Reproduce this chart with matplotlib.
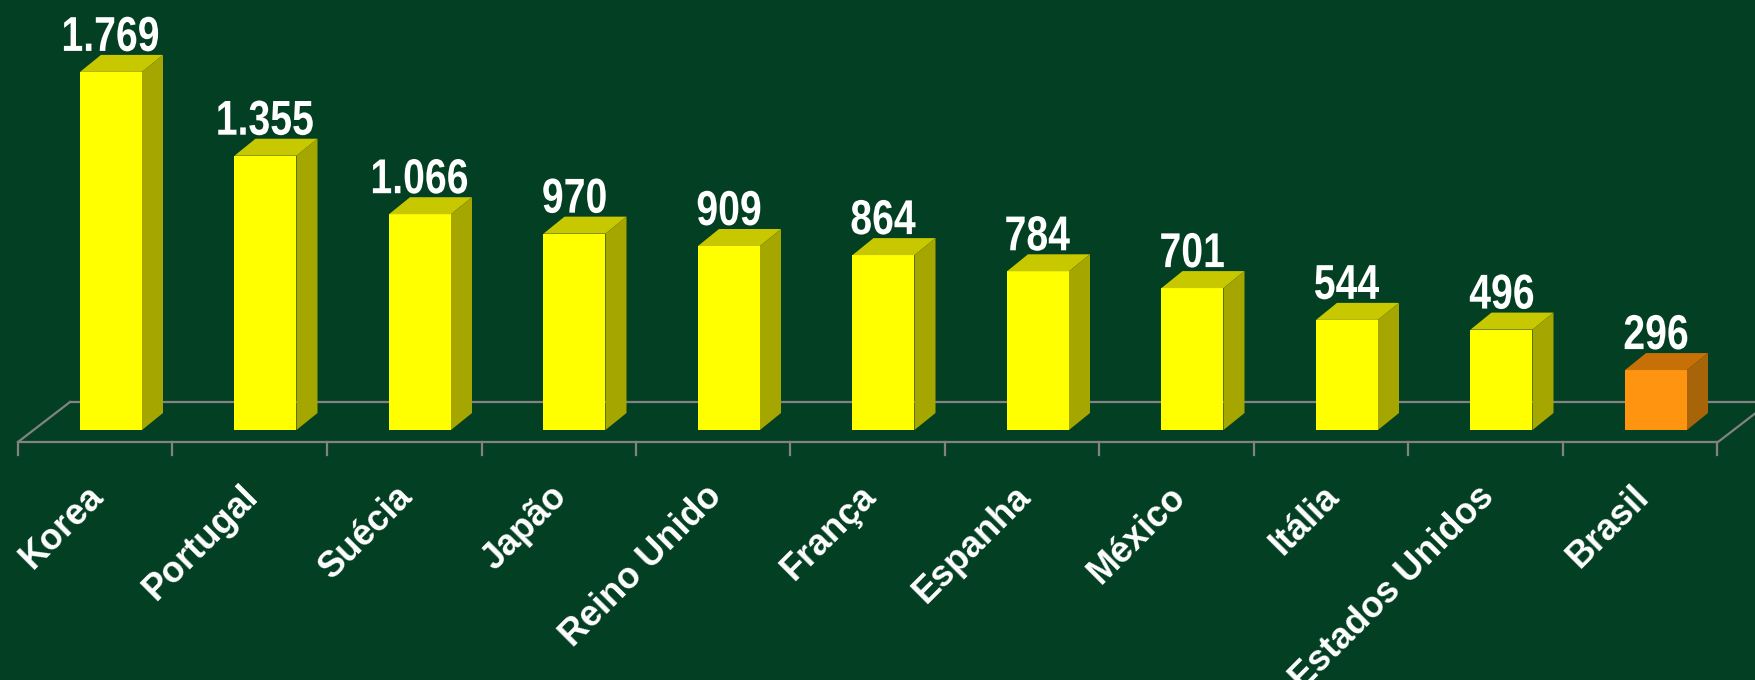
import matplotlib
matplotlib.use("Agg")
import matplotlib.pyplot as plt
from matplotlib.patches import Polygon, PathPatch
from matplotlib.textpath import TextPath
from matplotlib.font_manager import FontProperties
from matplotlib.transforms import Affine2D

paises = ['Korea', 'Portugal', 'Suécia', 'Japão', 'Reino Unido', 'França',
          'Espanha', 'México', 'Itália', 'Estados Unidos', 'Brasil']
valores = [1769, 1355, 1066, 970, 909, 864, 784, 701, 544, 496, 296]
destaque = 'Brasil'

bg = '#034023'
W, H = 1756, 680
# pixel geometry of the fake 3d view
cat_px = 154.5        # px per category
val_per_px = 4.94     # value units per px
x0_px = 111           # px of first bar front centre
base_px = 430         # px (from top) of value zero
bar_w = 62 / cat_px
dep_x = 21 / cat_px
dep_y = 17 * val_per_px

def px_x(p):
    return (p - x0_px) / cat_px

def px_y(p):
    return (base_px - p) * val_per_px

fig = plt.figure(figsize=(W / 100, H / 100), dpi=100, facecolor=bg)
ax = fig.add_axes([0, 0, 1, 1])
ax.set_facecolor(bg)
ax.set_xlim(px_x(0), px_x(W))
ax.set_ylim(px_y(H), px_y(0))
ax.axis('off')

# condensed bold text for the value labels (no narrow font installed)
bold = FontProperties(family='Liberation Sans', weight='bold')

def narrow_text(x, y, s, size=49, squeeze=0.8):
    tp = TextPath((0, 0), s, size=size, prop=bold)
    ext = tp.get_extents()
    cx = (ext.x0 + ext.x1) / 2
    X, Y = ax.transData.transform((x, y))
    tr = Affine2D().translate(-cx, 0).scale(squeeze, 1).translate(X, Y)
    ax.add_patch(PathPatch(tp, transform=tr, facecolor='white',
                           edgecolor='none', zorder=4))

# floor
grey = '#828282'
lw = 1.6
fy, by = px_y(442), px_y(402)
fl, fr = px_x(18), px_x(1718)
bl = px_x(70)
slope = (bl - fl)
ax.plot([fl, fr], [fy, fy], color=grey, lw=lw, zorder=1, solid_capstyle='butt')
ax.plot([bl, px_x(W + 10)], [by, by], color=grey, lw=lw, zorder=1)
ax.plot([fl, bl], [fy, by], color=grey, lw=lw, zorder=1)
ax.plot([fr, fr + slope], [fy, by], color=grey, lw=lw, zorder=1)
for k in range(len(paises) + 1):
    tx = fl + k
    ax.plot([tx, tx], [fy, px_y(455)], color=grey, lw=lw, zorder=1)

# bars
for i, (p, v) in enumerate(zip(paises, valores)):
    if p == destaque:
        front, top, side = '#FF9410', '#C87008', '#A86408'
    else:
        front, top, side = '#FFFF00', '#C8C800', '#A6A600'
    x1, x2 = i - bar_w / 2, i + bar_w / 2
    ax.bar(i, v, width=bar_w, color=front, zorder=3, linewidth=0)
    ax.add_patch(Polygon([(x1, v), (x2, v), (x2 + dep_x, v + dep_y), (x1 + dep_x, v + dep_y)],
                         closed=True, facecolor=top, edgecolor='none', zorder=3))
    ax.add_patch(Polygon([(x2, 0), (x2, v), (x2 + dep_x, v + dep_y), (x2 + dep_x, dep_y)],
                         closed=True, facecolor=side, edgecolor='none', zorder=3))
    rot = f"{v:,}".replace(',', '.')
    narrow_text(i, v + dep_y + 4 * val_per_px, rot)
    ax.text(i - 25 / cat_px, px_y(479), p, ha='right', va='top', rotation=45,
            rotation_mode='anchor', color='white', fontsize=26, fontweight='bold',
            family=['Liberation Sans', 'DejaVu Sans'], zorder=4)

fig.savefig('out.png', dpi=100, facecolor=bg)
